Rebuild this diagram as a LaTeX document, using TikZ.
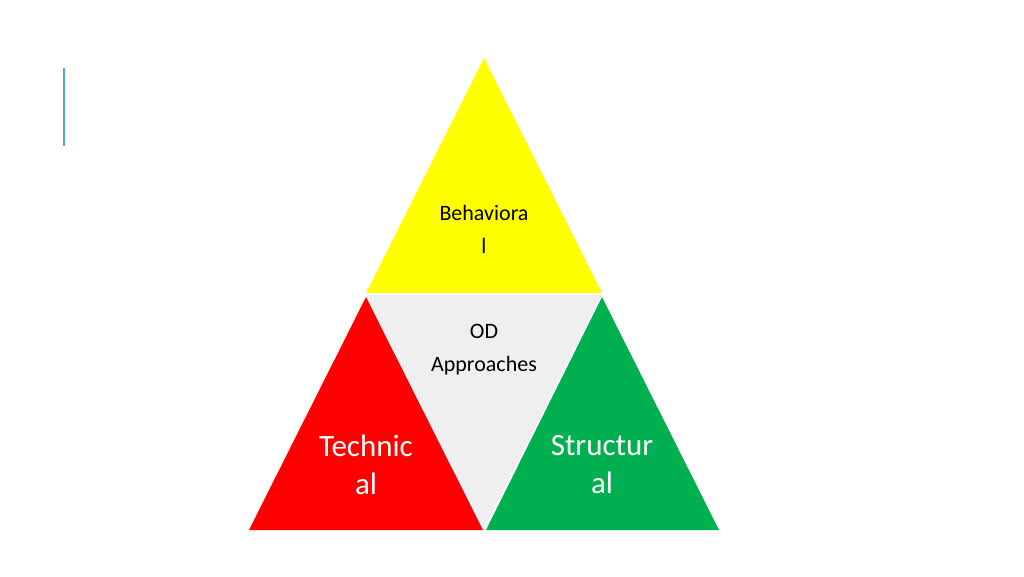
\documentclass[tikz,border=0pt]{standalone}
\usepackage{fontspec}
\setmainfont{Carlito}
\definecolor{pyryellow}{HTML}{FFFF00}
\definecolor{pyrgrey}{HTML}{EFEFEF}
\definecolor{pyrred}{HTML}{FF0000}
\definecolor{pyrgreen}{HTML}{00B050}
\definecolor{accentblue}{HTML}{4BACC6}
\tikzset{
  piece/.style={draw=none},
  smalllabel/.style={align=center, text=black, font={\fontsize{22}{33}\selectfont}},
  biglabel/.style={align=center, text=white, font={\fontsize{31}{38}\selectfont}}
}
\begin{document}
\begin{tikzpicture}[x=1pt,y=-1pt]
  \useasboundingbox (0,0) rectangle (1024,576);
  % accent bar
  \draw[accentblue, line width=2pt] (64,68) -- (64,146);
  % corners of the pyramid
  \coordinate (top) at (484,58);
  \coordinate (midl) at (366,294);
  \coordinate (midr) at (602,294);
  \coordinate (botl) at (249,530);
  \coordinate (botm) at (484,530);
  \coordinate (botr) at (719,530);
  % the four pieces
  \fill[pyrgrey, piece] (366,295) -- (602,295) -- (484,528) -- cycle;
  \fill[pyryellow, piece] (top) -- (602,293) -- (366,293) -- cycle;
  \fill[pyrred, piece] (366,297) -- (483,530) -- (botl) -- cycle;
  \fill[pyrgreen, piece] (602,297) -- (botr) -- (486,530) -- cycle;
  % labels
  \node[smalllabel] (behav) at (484,229) {Behaviora\\l};
  \node[smalllabel] (od) at (484,350) {OD\\Approaches};
  \node[biglabel] (tech) at (366,465) {Technic\\al};
  \node[biglabel] (struct) at (602,465) {Structur\\al};
\end{tikzpicture}
\end{document}
